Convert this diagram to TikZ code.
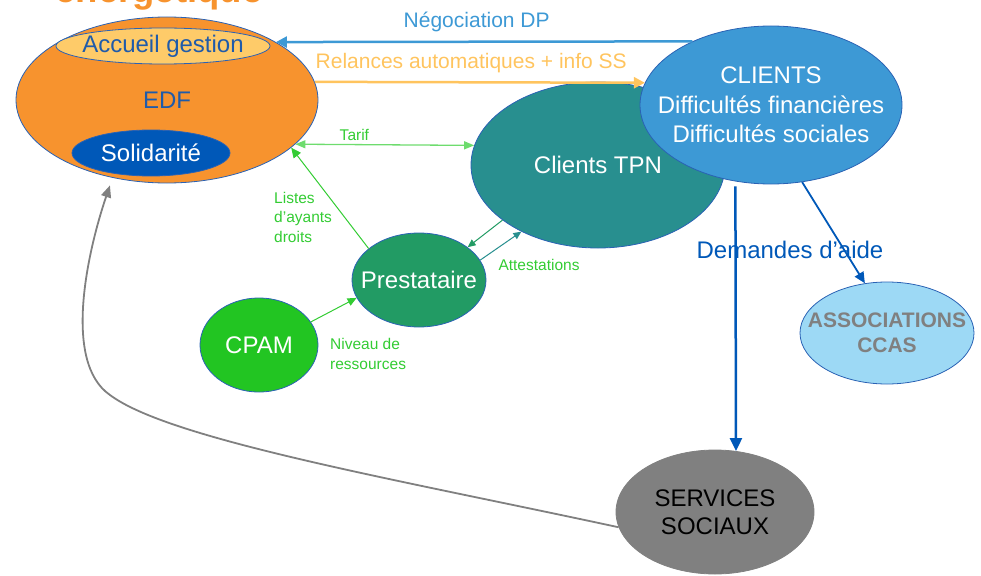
\documentclass[tikz,border=0pt]{standalone}
\usepackage{fontspec}
\setmainfont{Liberation Sans}
\usetikzlibrary{shapes.geometric,arrows.meta}

\definecolor{edfOrange}{HTML}{F7932E}
\definecolor{accueilFill}{HTML}{FECB69}
\definecolor{edgeBlue}{HTML}{2A62B4}
\definecolor{darkBlue}{HTML}{0058B8}
\definecolor{textBlue}{HTML}{1F5BAA}
\definecolor{clientBlue}{HTML}{3D99D5}
\definecolor{tpnTeal}{HTML}{288F8F}
\definecolor{prestGreen}{HTML}{229B64}
\definecolor{cpamGreen}{HTML}{22C522}
\definecolor{assocBlue}{HTML}{9DD9F5}
\definecolor{ssGray}{HTML}{808080}
\definecolor{labelGreen}{HTML}{33CC33}
\definecolor{tarifGreen}{HTML}{6EDC6E}
\definecolor{relanceOrange}{HTML}{FFC45E}

\begin{document}
\begin{tikzpicture}[x=1pt, y=-1pt,
    bubble/.style = {draw=edgeBlue, line width=0.8pt, ellipse, inner xsep=-30pt, inner ysep=0pt,
                     align=center, font=\fontsize{24}{29.5}\selectfont},
    small/.style = {inner sep=0pt, align=left, text=labelGreen, font=\fontsize{15.5}{19.5}\selectfont},
    big/.style = {inner sep=0pt, font=\fontsize{21}{25}\selectfont}]
    \useasboundingbox (0,0) rectangle (981,575);

    \node[anchor=base, inner sep=0pt, text=edfOrange, font=\bfseries\fontsize{36.5}{40}\selectfont] (titre) at (159,3) {énergétique};

    \node[bubble, fill=edfOrange, text=textBlue, minimum width=302pt, minimum height=166pt] (EDF) at (167,100) {EDF};
    \node[bubble, fill=accueilFill, text=textBlue, minimum width=214pt, minimum height=36pt] (ACC) at (163,46) {Accueil gestion};
    \node[bubble, fill=darkBlue, text=white, minimum width=158pt, minimum height=46pt] (SOL) at (151,153) {Solidarité};
    \node[bubble, fill=tpnTeal, text=white, minimum width=254pt, minimum height=166pt] (TPN) at (598,165) {Clients TPN};
    \node[bubble, fill=clientBlue, text=white, minimum width=262pt, minimum height=158pt] (CLI) at (771,105) {CLIENTS\\Difficultés financières\\Difficultés sociales};
    \node[bubble, fill=prestGreen, text=white, minimum width=134pt, minimum height=94pt] (PRE) at (419,280) {Prestataire};
    \node[bubble, fill=cpamGreen, text=white, minimum width=118pt, minimum height=94pt] (CPAM) at (259,345) {CPAM};
    \node[bubble, fill=assocBlue, text=ssGray, minimum width=174pt, minimum height=102pt,
          font=\bfseries\fontsize{21}{25}\selectfont] (ASSOC) at (887,333) {ASSOCIATIONS\\CCAS};
    \node[bubble, draw=ssGray, fill=ssGray, text=black, minimum width=198pt, minimum height=124pt,
          font=\fontsize{24}{28}\selectfont] (SS) at (715,512) {SERVICES\\SOCIAUX};

    \draw[-{Triangle[length=11pt,width=11pt]}, clientBlue, line width=2.5pt] (CLI.141)
        -- node[big, anchor=base, pos=0.518, yshift=14pt] (negoc) {Négociation DP} (EDF.28);
    \draw[-{Triangle[length=11pt,width=11pt]}, relanceOrange, line width=2.5pt] (EDF.7)
        -- node[big, anchor=base, pos=0.474, yshift=14pt] (relance) {Relances automatiques + info SS} (CLI.170);
    \draw[{Triangle[length=10pt,width=8pt]}-{Triangle[length=10pt,width=8pt]}, tarifGreen, line width=1.3pt] (EDF.-19.5)
        -- node[small, anchor=base, pos=0.33, yshift=4pt] (tarif) {Tarif} (TPN.171);
    \draw[-{Triangle[length=10pt,width=9pt]}, labelGreen, line width=1pt] (PRE.148) -- (EDF.-21);
    \draw[-{Triangle[length=8pt,width=7pt]}, prestGreen, line width=1pt] (TPN.210) -- (PRE.34);
    \draw[-{Triangle[length=8pt,width=7pt]}, tpnTeal, line width=1pt] (PRE.18) -- (TPN.221.5);
    \draw[-{Triangle[length=9pt,width=8pt]}, labelGreen, line width=1pt] (CPAM.24) -- (PRE.196);
    \draw[-{Triangle[length=13pt,width=12pt]}, darkBlue, line width=2.5pt, shorten <=5pt] (CLI.-115) -- (SS.71);
    \draw[-{Triangle[length=11pt,width=10pt]}, darkBlue, line width=1.8pt] (CLI.-68) -- (ASSOC.114);
    \draw[-{Triangle[length=12pt,width=10pt]}, ssGray, line width=1.8pt, shorten >=8pt] (SS.189)
        .. controls (400,480) and (170,440) .. (110,395)
        .. controls (62,362) and (88,250) .. (EDF.-125);

    \node[small, anchor=west] (listes) at (274,217) {Listes\\d’ayants\\droits};
    \node[small, anchor=base] (attest) at (539,270) {Attestations};
    \node[small, anchor=west] (niveau) at (330,354) {Niveau de\\ressources};
    \node[anchor=base, inner sep=0pt, text=darkBlue, font=\fontsize{24}{29}\selectfont] (demandes) at (790,258) {Demandes d’aide};
\end{tikzpicture}
\end{document}
